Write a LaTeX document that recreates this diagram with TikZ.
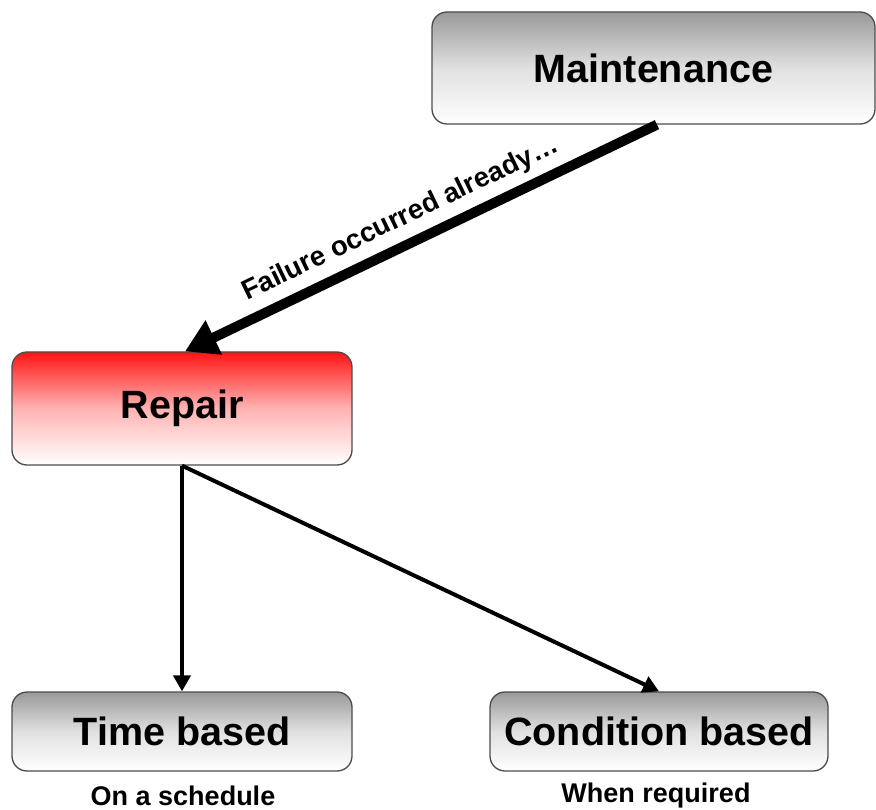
\documentclass[tikz,border=0pt]{standalone}
\usepackage{fontspec}
\setmainfont{Liberation Sans}
\usetikzlibrary{arrows.meta}
\begin{document}
\begin{tikzpicture}[x=1pt,y=-1pt,
  box/.style={draw=black!70, line width=1.3pt, rounded corners=15pt, inner sep=0pt,
     font=\fontsize{39.5}{41}\selectfont\bfseries},
  graybox/.style={box, top color=black!40, bottom color=white, middle color=black!12},
  redbox/.style={box, top color=red!92, bottom color=white, middle color=red!30},
  note/.style={font=\fontsize{27}{29}\selectfont\bfseries, inner sep=0pt},
  thick arrow/.style={line width=10pt, -{Triangle[length=32pt,width=36pt]}},
  thin arrow/.style={line width=4pt, -{Triangle[length=16pt,width=17pt]}}
]
\useasboundingbox (0,0) rectangle (876,810);
\node[graybox, minimum width=443pt, minimum height=112pt] (maint) at (653.5,68) {Maintenance};
\node[redbox, minimum width=340pt, minimum height=113pt] (repair) at (182,408.5) {Repair};
\node[graybox, minimum width=340pt, minimum height=79pt] (time) at (182,731.5) {Time based};
\node[graybox, minimum width=338pt, minimum height=79pt] (cond) at (659,731.5) {Condition based};
\node[note] (sched) at (183,796) {On a schedule};
\node[note] (req) at (656,796) {When required};
\coordinate (mstart) at ([xshift=3.5pt]maint.south);
\coordinate (rtip) at ([xshift=3pt]repair.north);
\draw[thick arrow] (mstart) -- (rtip)
  node[pos=0.52, sloped, above=8pt, font=\fontsize{27.5}{29}\selectfont\bfseries, inner sep=0pt] {Failure occurred already\ldots};
\draw[thin arrow] (repair.south) -- (time.north);
\draw[thin arrow] (repair.south) -- (cond.north);
\end{tikzpicture}
\end{document}
